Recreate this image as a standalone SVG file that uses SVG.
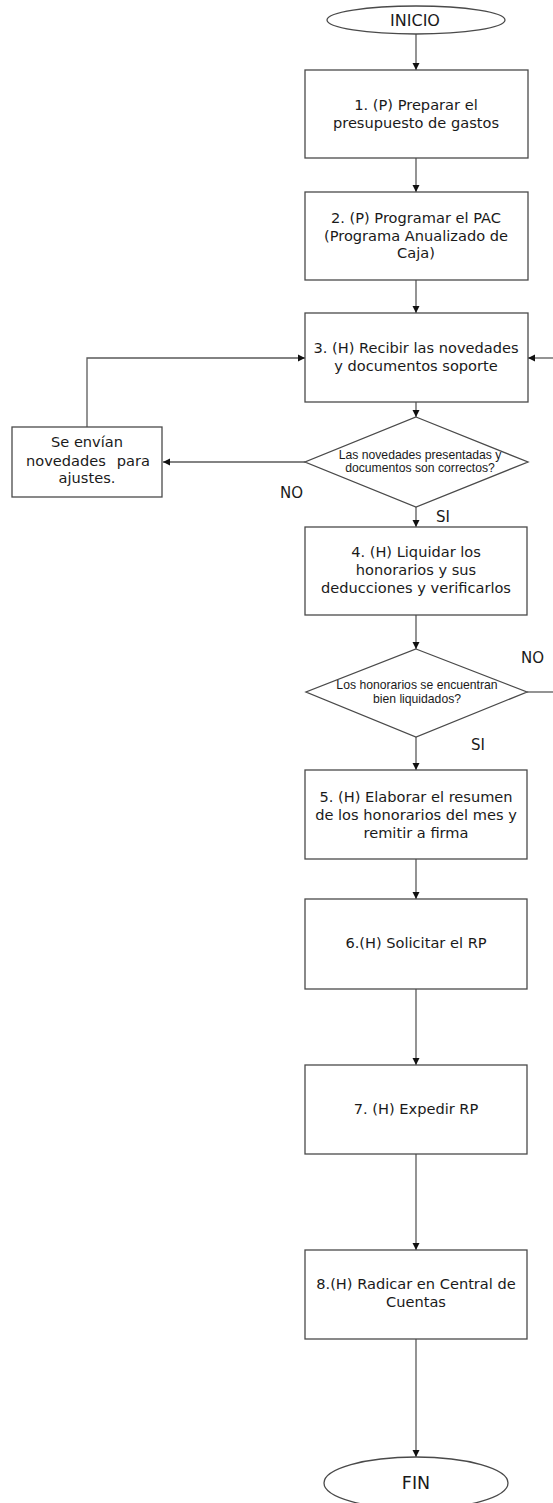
<svg xmlns="http://www.w3.org/2000/svg" width="553" height="1503" viewBox="0 0 553 1503">
<style>
.box{fill:#fff;stroke:#4a4a4a;stroke-width:1.3}
.ln{fill:none;stroke:#5a5a5a;stroke-width:1.3}
.t{font-family:"DejaVu Sans",Verdana,sans-serif;font-size:14.6px;fill:#1a1a1a;text-anchor:middle}
.s{font-family:"Liberation Sans",Arial,sans-serif;font-size:12.2px;fill:#1a1a1a;text-anchor:middle}
.lb{font-family:"DejaVu Sans",Verdana,sans-serif;font-size:15px;fill:#1a1a1a}
</style>
<defs>
<marker id="ar" markerWidth="8" markerHeight="8" refX="7" refY="4" orient="auto" markerUnits="userSpaceOnUse">
<path d="M0,0.5 L7,4 L0,7.5 Z" fill="#111"/>
</marker>
</defs>
<rect width="553" height="1503" fill="#fff"/>
<g id="connectors">
<line class="ln" x1="416" y1="34" x2="416" y2="70" marker-end="url(#ar)"/>
<line class="ln" x1="416" y1="158" x2="416" y2="192" marker-end="url(#ar)"/>
<line class="ln" x1="416" y1="280" x2="416" y2="313" marker-end="url(#ar)"/>
<line class="ln" x1="416" y1="402" x2="416" y2="417" marker-end="url(#ar)"/>
<line class="ln" x1="416" y1="507" x2="416" y2="527" marker-end="url(#ar)"/>
<line class="ln" x1="416" y1="615" x2="416" y2="649" marker-end="url(#ar)"/>
<line class="ln" x1="416" y1="737" x2="416" y2="770" marker-end="url(#ar)"/>
<line class="ln" x1="416" y1="859" x2="416" y2="899" marker-end="url(#ar)"/>
<line class="ln" x1="416" y1="989" x2="416" y2="1065" marker-end="url(#ar)"/>
<line class="ln" x1="416" y1="1154" x2="416" y2="1250" marker-end="url(#ar)"/>
<line class="ln" x1="416" y1="1339" x2="416" y2="1457" marker-end="url(#ar)"/>
<line class="ln" x1="305" y1="462" x2="163" y2="462" marker-end="url(#ar)"/>
<polyline class="ln" points="87,427 87,358 305,358" marker-end="url(#ar)"/>
<line class="ln" x1="553" y1="358" x2="528" y2="358" marker-end="url(#ar)"/>
<line class="ln" x1="527" y1="692" x2="553" y2="692"/>
<text class="lb" x="280" y="498">NO</text>
<text class="lb" x="436" y="522">SI</text>
<text class="lb" x="521" y="663">NO</text>
<text class="lb" x="471" y="750">SI</text>
</g>
<g id="inicio">
<ellipse class="box" cx="416" cy="20" rx="89" ry="14"/>
<text class="t" x="415" y="25.5" style="font-size:16px">INICIO</text>
</g>
<g id="step1">
<rect class="box" x="305" y="70" width="223" height="88"/>
<text class="t" x="416" y="110">1. (P) Preparar el</text>
<text class="t" x="416" y="128">presupuesto de gastos</text>
</g>
<g id="step2">
<rect class="box" x="305" y="192" width="223" height="88"/>
<text class="t" x="416" y="223">2. (P) Programar el PAC</text>
<text class="t" x="416" y="241">(Programa Anualizado de</text>
<text class="t" x="416" y="258">Caja)</text>
</g>
<g id="step3">
<rect class="box" x="305" y="313" width="223" height="89"/>
<text class="t" x="416" y="353">3. (H) Recibir las novedades</text>
<text class="t" x="416" y="371">y documentos soporte</text>
</g>
<g id="decision1">
<polygon class="box" points="416,417 528,462 416,507 305,462"/>
<text class="s" x="420" y="459">Las novedades presentadas  y</text>
<text class="s" x="420" y="472">documentos  son correctos?</text>
</g>
<g id="ajustes">
<rect class="box" x="12" y="427" width="150" height="70"/>
<text class="t" x="87" y="447">Se envían</text>
<text class="lb" y="466" style="font-size:14.6px"><tspan x="26">novedades</tspan><tspan x="150" text-anchor="end">para</tspan></text>
<text class="t" x="87" y="483">ajustes.</text>
</g>
<g id="step4">
<rect class="box" x="305" y="527" width="222" height="88"/>
<text class="t" x="416" y="557">4. (H) Liquidar los</text>
<text class="t" x="416" y="575">honorarios y sus</text>
<text class="t" x="416" y="593">deducciones y verificarlos</text>
</g>
<g id="decision2">
<polygon class="box" points="416,649 527,692 416,737 306,692"/>
<text class="s" x="417" y="689">Los honorarios se encuentran</text>
<text class="s" x="417" y="703">bien liquidados?</text>
</g>
<g id="step5">
<rect class="box" x="305" y="770" width="222" height="89"/>
<text class="t" x="416" y="802">5. (H) Elaborar el resumen</text>
<text class="t" x="416" y="820">de los honorarios del mes y</text>
<text class="t" x="416" y="838">remitir a firma</text>
</g>
<g id="step6">
<rect class="box" x="305" y="899" width="222" height="90"/>
<text class="t" x="416" y="948">6.(H) Solicitar el RP</text>
</g>
<g id="step7">
<rect class="box" x="305" y="1065" width="222" height="89"/>
<text class="t" x="416" y="1114">7. (H) Expedir RP</text>
</g>
<g id="step8">
<rect class="box" x="305" y="1250" width="222" height="89"/>
<text class="t" x="416" y="1289">8.(H) Radicar en Central de</text>
<text class="t" x="416" y="1307">Cuentas</text>
</g>
<g id="fin">
<ellipse class="box" cx="416" cy="1483" rx="92" ry="26"/>
<text class="t" x="416" y="1489" style="font-size:17.5px">FIN</text>
</g>
</svg>
